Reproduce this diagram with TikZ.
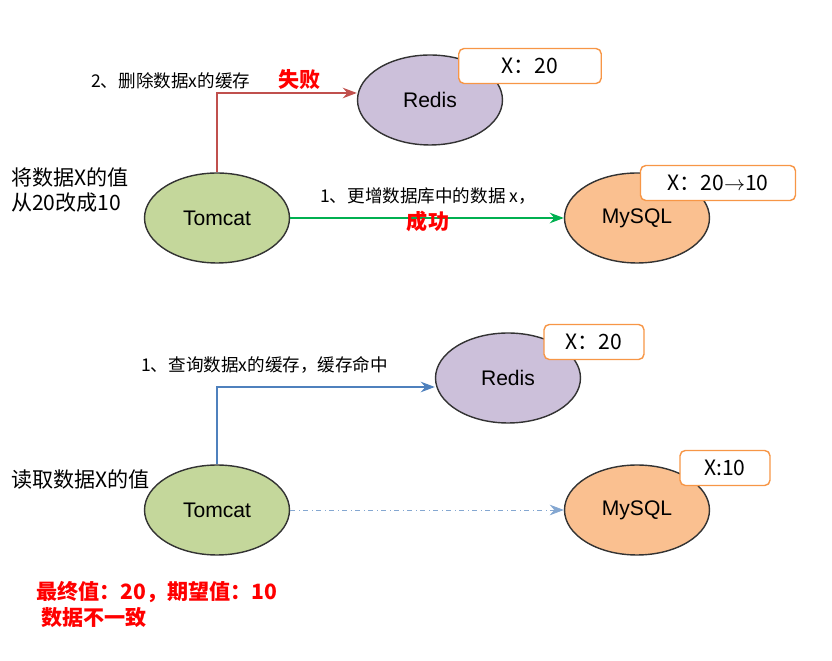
\documentclass[tikz,border=0pt]{standalone}
\usepackage{fontspec}
\setmainfont{Liberation Sans}
\newfontfamily\cjk{Noto Sans CJK SC}
\usetikzlibrary{shapes.geometric,positioning,arrows.meta}
\definecolor{tomcatgreen}{HTML}{C4D79B}
\definecolor{redislilac}{HTML}{CCC0DA}
\definecolor{mysqlorange}{HTML}{FAC090}
\definecolor{boxorange}{HTML}{F79646}
\definecolor{arrred}{HTML}{C0504D}
\definecolor{arrgreen}{HTML}{00B050}
\definecolor{arrblue}{HTML}{4F81BD}
\begin{document}
\begin{tikzpicture}[x=0.02cm,y=-0.02cm,
  srv/.style={ellipse,draw=black!80,thick,minimum width=2.9cm,minimum height=1.8cm,font=\large},
  val/.style={draw=boxorange,thick,rounded corners=3pt,fill=white,font=\large\cjk,minimum height=0.7cm},
  lbl/.style={font=\cjk,anchor=west},
  bad/.style={font=\cjk\bfseries\large,text=red},
  >={Stealth[length=8pt]}]
\useasboundingbox (0,0) rectangle (832,661);
% top: update
\node[srv,fill=tomcatgreen] (tc1) at (217,218) {Tomcat};
\node[srv,fill=redislilac] (rd1) at (430,100) {Redis};
\node[srv,fill=mysqlorange] (my1) at (637,218) {MySQL};
\node[val,minimum width=2.85cm] (v1) at (530,66) {X：20};
\node[val,minimum width=3.1cm] (v2) at (718,183) {X：20$\rightarrow$10};
\coordinate (c1) at (217,93);
\draw[arrred,thick,->] (tc1.north) -- (c1) -- (rd1.west |- c1);
\node[lbl] at (85,81) {2、删除数据x的缓存};
\node[bad,anchor=west] at (272,80) {失败};
\draw[arrgreen,thick,->] (tc1.east) -- (my1.west);
\node[font=\cjk] at (428,196) {1、更增数据库中的数据 x，};
\node[bad] at (428,221) {成功};
\node[lbl,font=\cjk\large,align=left] at (5,190) {将数据X的值\\从20改成10};
% bottom: read
\node[srv,fill=tomcatgreen] (tc2) at (217,510) {Tomcat};
\node[srv,fill=redislilac] (rd2) at (508,378) {Redis};
\node[srv,fill=mysqlorange] (my2) at (637,510) {MySQL};
\node[val,minimum width=2cm] (v3) at (594,342) {X：20};
\node[val,minimum width=1.8cm] (v4) at (725,468) {X:10};
\coordinate (c2) at (217,387);
\draw[arrblue,thick,->] (tc2.north) -- (c2) -- (rd2.west |- c2);
\node[lbl] at (135,365) {1、查询数据x的缓存，缓存命中};
\draw[arrblue!70,dash dot,->] (tc2.east) -- (my2.west);
\node[lbl,font=\cjk\large] at (5,480) {读取数据X的值};
\node[bad,anchor=west] at (30,592) {最终值：20，期望值：10};
\node[bad,anchor=west] at (35,618) {数据不一致};
\end{tikzpicture}
\end{document}
